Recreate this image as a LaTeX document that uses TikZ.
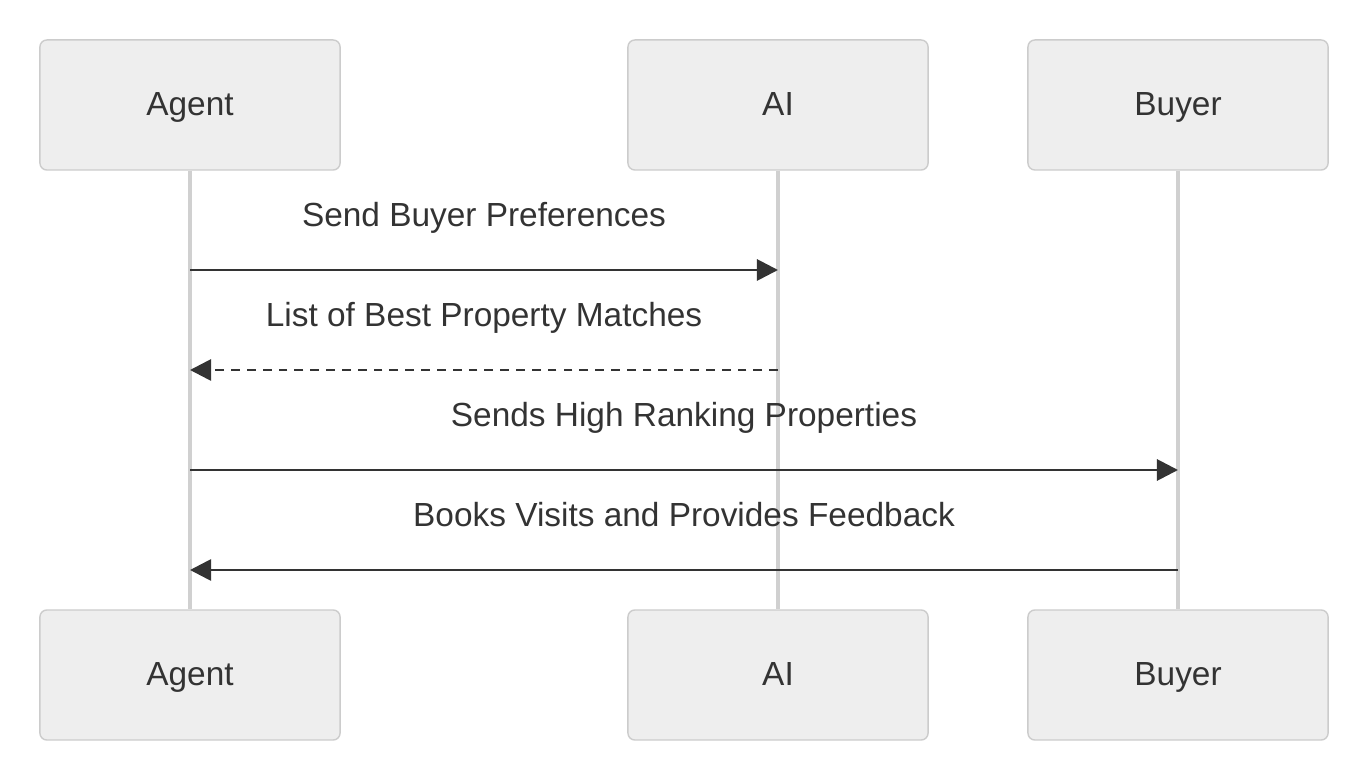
\documentclass[tikz,border=0pt]{standalone}
\usepackage{fontspec}
\setmainfont{Liberation Sans}
\usetikzlibrary{arrows.meta, positioning}
\definecolor{actorfill}{RGB}{238,238,238}
\definecolor{actordraw}{RGB}{204,204,204}
\definecolor{lifeline}{RGB}{208,208,208}
\definecolor{msgline}{RGB}{51,51,51}
\tikzset{
    actor/.style={
        rectangle,
        rounded corners=2pt,
        draw=actordraw,
        fill=actorfill,
        minimum width=3cm,
        minimum height=1.3cm,
        text height=1.6ex,
        text depth=0.45ex,
        text=msgline,
        font=\fontsize{9.5}{11}\selectfont
    },
    life/.style={
        draw=lifeline,
        line width=1.1pt
    },
    message/.style={
        draw=msgline,
        line width=0.8pt,
        -{Triangle[length=6pt,width=6pt]}
    },
    reply/.style={
        message,
        dash pattern=on 2.5pt off 2pt
    },
    msglabel/.style={
        text=msgline,
        text height=1.6ex,
        text depth=0.45ex,
        font=\fontsize{9.5}{11}\selectfont
    }
}
\begin{document}
\begin{tikzpicture}[x=0.01cm, y=-0.01cm]
\useasboundingbox (0,0) rectangle (1368,780);

% Actors (top)
\node[actor] (agent) at (190,105) {Agent};
\node[actor] (ai) at (778,105) {AI};
\node[actor] (buyer) at (1178,105) {Buyer};

% Actors (bottom)
\node[actor] (agentb) at (190,675) {Agent};
\node[actor] (aib) at (778,675) {AI};
\node[actor] (buyerb) at (1178,675) {Buyer};

% Lifelines
\draw[life] (agent) -- (agentb);
\draw[life] (ai) -- (aib);
\draw[life] (buyer) -- (buyerb);

% Message anchors
\foreach \y/\n in {270/1, 370/2, 470/3, 570/4} {
    \coordinate (ag\n) at (190,\y);
    \coordinate (ai\n) at (778,\y);
    \coordinate (bu\n) at (1178,\y);
}

% Messages
\draw[message] (ag1) -- node[msglabel, above=0.22cm] {Send Buyer Preferences} (ai1);
\draw[reply] (ai2) -- node[msglabel, above=0.22cm] {List of Best Property Matches} (ag2);
\draw[message] (ag3) -- node[msglabel, above=0.22cm] {Sends High Ranking Properties} (bu3);
\draw[message] (bu4) -- node[msglabel, above=0.22cm] {Books Visits and Provides Feedback} (ag4);

\end{tikzpicture}
\end{document}
